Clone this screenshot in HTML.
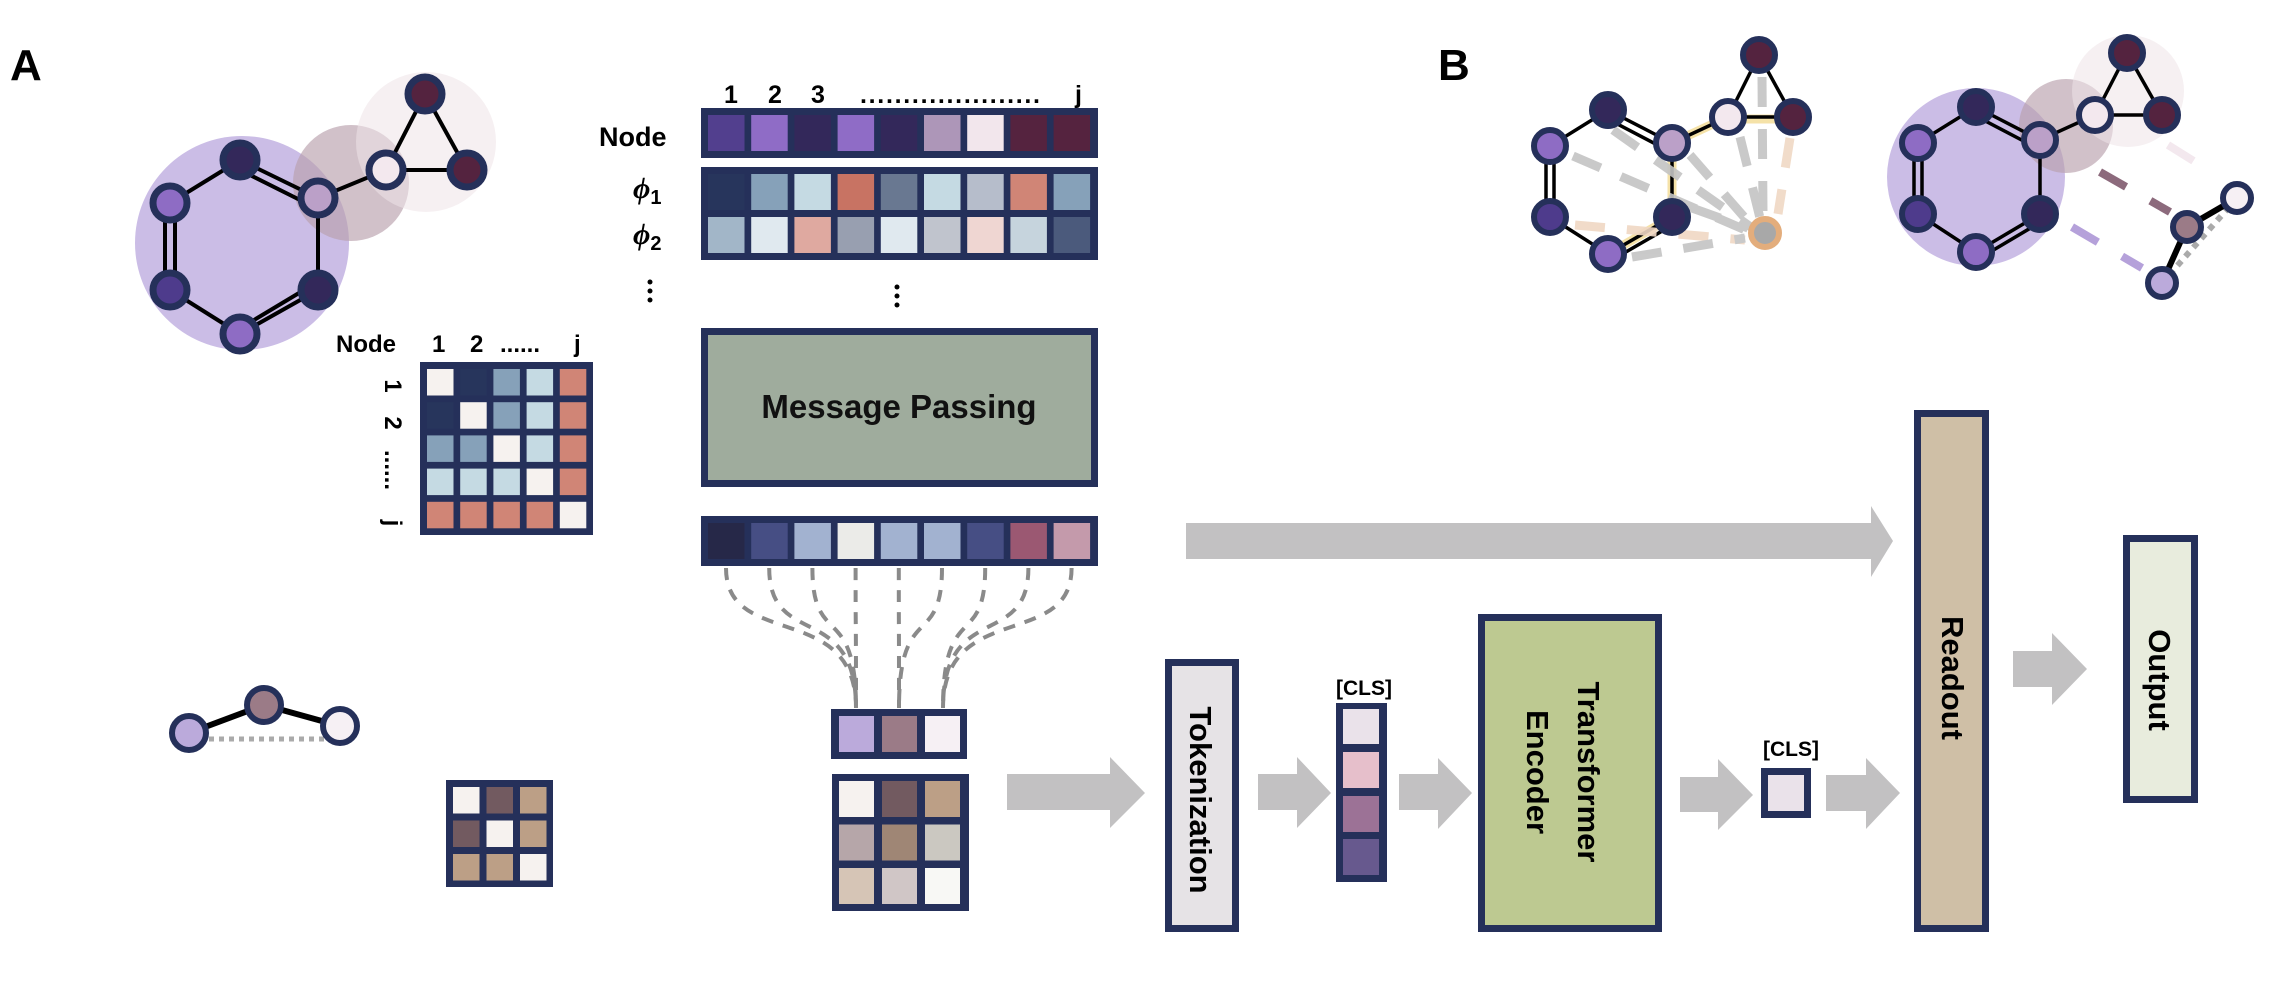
<!DOCTYPE html>
<html><head><meta charset="utf-8"><style>
html,body{margin:0;padding:0;background:#fff;}
svg{display:block;font-family:"Liberation Sans",sans-serif;font-weight:bold;}
</style></head><body>
<svg width="2278" height="982" viewBox="0 0 2278 982" xmlns="http://www.w3.org/2000/svg">
<text x="10" y="80" font-size="44">A</text>
<text x="1438" y="80" font-size="44">B</text>

<circle cx="242" cy="243" r="107" fill="#cbbde6"/>
<circle cx="351" cy="183" r="58" fill="#b8a0ac" opacity="0.65"/>
<circle cx="426" cy="142" r="70" fill="#efe4e8" opacity="0.55"/>
<g stroke="#000" stroke-width="4" fill="none">
<line x1="240" y1="160" x2="170" y2="203"/>
<line x1="240" y1="160" x2="318" y2="198"/><line x1="236" y1="168" x2="312" y2="206"/>
<line x1="165" y1="203" x2="165" y2="290"/><line x1="175" y1="203" x2="175" y2="290"/>
<line x1="170" y1="290" x2="240" y2="334"/>
<line x1="240" y1="334" x2="318" y2="290"/><line x1="244" y1="326" x2="314" y2="284"/>
<line x1="318" y1="198" x2="318" y2="290"/>
<line x1="318" y1="198" x2="386" y2="170"/>
<line x1="386" y1="170" x2="425" y2="94"/><line x1="425" y1="94" x2="467" y2="170"/><line x1="386" y1="170" x2="467" y2="170"/>
</g>
<g stroke="#25305a" stroke-width="7">
<circle cx="240" cy="160" r="17" fill="#33285a"/>
<circle cx="318" cy="198" r="17" fill="#bba0c8"/>
<circle cx="170" cy="203" r="17" fill="#8e6cc4"/>
<circle cx="170" cy="290" r="17" fill="#4e3b8c"/>
<circle cx="318" cy="290" r="17" fill="#33285a"/>
<circle cx="240" cy="334" r="17" fill="#8e6cc4"/>
<circle cx="386" cy="170" r="17" fill="#f3e8ee"/>
<circle cx="425" cy="94" r="17" fill="#54233f"/>
<circle cx="467" cy="170" r="17" fill="#54233f"/>
</g>

<text x="336" y="352" font-size="24">Node</text>
<text x="432" y="352" font-size="24">1</text>
<text x="470" y="352" font-size="24">2</text>
<text x="500" y="352" font-size="24">......</text>
<text x="574" y="352" font-size="24">j</text>
<g font-size="24">
<text transform="translate(385,386) rotate(90)" text-anchor="middle">1</text>
<text transform="translate(385,423) rotate(90)" text-anchor="middle">2</text>
<text transform="translate(385,470) rotate(90)" text-anchor="middle">......</text>
<text transform="translate(385,523) rotate(90)" text-anchor="middle">j</text>
</g>
<rect x="420" y="362" width="173" height="173" fill="#25305a"/>
<g id="mat"></g>

<g font-size="25">
<text x="724" y="103">1</text><text x="768" y="103">2</text><text x="811" y="103">3</text>
<text x="860" y="103" textLength="180" lengthAdjust="spacing">.....................</text>
<text x="1075" y="103">j</text>
</g>
<text x="599" y="146" font-size="27">Node</text>
<text x="633" y="198" font-size="30" font-style="italic" font-family="Liberation Serif,serif">ϕ<tspan font-size="20" dy="6" font-family="Liberation Sans,sans-serif" font-style="normal">1</tspan></text>
<text x="633" y="244" font-size="30" font-style="italic" font-family="Liberation Serif,serif">ϕ<tspan font-size="20" dy="6" font-family="Liberation Sans,sans-serif" font-style="normal">2</tspan></text>
<g fill="#000"><circle cx="650" cy="282" r="2.5"/><circle cx="650" cy="291" r="2.5"/><circle cx="650" cy="300" r="2.5"/>
<circle cx="897" cy="287" r="2.5"/><circle cx="897" cy="296" r="2.5"/><circle cx="897" cy="305" r="2.5"/></g>
<rect x="701" y="108" width="397" height="50" fill="#25305a"/>
<rect x="701" y="167" width="397" height="93" fill="#25305a"/>
<rect x="701" y="516" width="397" height="50" fill="#25305a"/>
<g id="bars"></g>

<rect x="704.5" y="331.5" width="390" height="152" fill="#9fac9d" stroke="#25305a" stroke-width="7"/>
<text x="899" y="418" font-size="33" text-anchor="middle" fill="#111">Message Passing</text>

<g id="fan" fill="none" stroke="#8a8a8a" stroke-width="4" stroke-dasharray="12 10"></g>

<line x1="189" y1="739" x2="340" y2="739" stroke="#aaa" stroke-width="5" stroke-dasharray="5 5"/>
<g stroke="#000" stroke-width="6"><line x1="189" y1="733" x2="264" y2="705"/><line x1="264" y1="705" x2="340" y2="726"/></g>
<g stroke="#25305a" stroke-width="6">
<circle cx="189" cy="733" r="17" fill="#bbaadb"/>
<circle cx="264" cy="705" r="17" fill="#9b7b87"/>
<circle cx="340" cy="726" r="17" fill="#f6f0f4"/>
</g>
<rect x="446" y="780" width="107" height="107" fill="#25305a"/>
<rect x="831" y="709" width="136" height="50" fill="#25305a"/>
<rect x="832" y="774" width="137" height="137" fill="#25305a"/>
<g id="small"></g>

<g fill="#c2c1c2">
<polygon points="1186,523 1871,523 1871,506 1893,541 1871,577 1871,559 1186,559"/>
<polygon points="1007,774 1110,774 1110,757 1145,793 1110,828 1110,810 1007,810"/>
<polygon points="1258,774 1297,774 1297,757 1331,793 1297,828 1297,810 1258,810"/>
<polygon points="1399,774 1438,774 1438,758 1472,793 1438,829 1438,810 1399,810"/>
<polygon points="1680,777 1718,777 1718,759 1753,795 1718,830 1718,812 1680,812"/>
<polygon points="1826,775 1866,775 1866,758 1900,793 1866,829 1866,811 1826,811"/>
<polygon points="2013,651 2052,651 2052,633 2087,669 2052,705 2052,687 2013,687"/>
</g>

<rect x="1168.5" y="662.5" width="67" height="266" fill="#e6e3e6" stroke="#25305a" stroke-width="7"/>
<text transform="translate(1190,800) rotate(90)" font-size="31" text-anchor="middle">Tokenization</text>
<text x="1336" y="695" font-size="21">[CLS]</text>
<rect x="1336" y="703" width="51" height="179" fill="#25305a"/>
<rect x="1343" y="709" width="36" height="35" fill="#eae2ea"/>
<rect x="1343" y="752" width="36" height="36" fill="#e6bfcb"/>
<rect x="1343" y="796" width="36" height="36" fill="#9c7296"/>
<rect x="1343" y="839" width="36" height="36" fill="#67598e"/>
<rect x="1481.5" y="617.5" width="177" height="311" fill="#bdc991" stroke="#25305a" stroke-width="7"/>
<text transform="translate(1578,772) rotate(90)" font-size="31" text-anchor="middle">Transformer</text>
<text transform="translate(1527,772) rotate(90)" font-size="31" text-anchor="middle">Encoder</text>
<text x="1763" y="756" font-size="21">[CLS]</text>
<rect x="1761" y="768" width="50" height="50" fill="#25305a"/>
<rect x="1768" y="775" width="36" height="36" fill="#eae2ea"/>
<rect x="1917.5" y="413.5" width="68" height="515" fill="#cfbfa6" stroke="#25305a" stroke-width="7"/>
<text transform="translate(1942,678) rotate(90)" font-size="31" text-anchor="middle">Readout</text>
<rect x="2126.5" y="538.5" width="68" height="261" fill="#e8ecdd" stroke="#25305a" stroke-width="7"/>
<text transform="translate(2149,680) rotate(90)" font-size="31" text-anchor="middle">Output</text>

<g stroke="#f5e2a8" stroke-width="9" fill="none">
<line x1="1672" y1="143" x2="1728" y2="117"/><line x1="1728" y1="119" x2="1793" y2="119"/>
<line x1="1672" y1="143" x2="1672" y2="217"/><line x1="1672" y1="217" x2="1608" y2="254"/>
</g>
<g stroke="#000" stroke-width="3.5" fill="none">
<line x1="1608" y1="110" x2="1550" y2="146"/>
<line x1="1608" y1="110" x2="1672" y2="143"/><line x1="1604" y1="117" x2="1667" y2="150"/>
<line x1="1546" y1="146" x2="1546" y2="217"/><line x1="1554" y1="146" x2="1554" y2="217"/>
<line x1="1550" y1="217" x2="1608" y2="254"/>
<line x1="1608" y1="254" x2="1672" y2="217"/><line x1="1612" y1="260" x2="1676" y2="223"/>
<line x1="1672" y1="143" x2="1672" y2="217"/>
<line x1="1672" y1="143" x2="1728" y2="117"/>
<line x1="1728" y1="117" x2="1759" y2="55"/><line x1="1759" y1="55" x2="1793" y2="117"/><line x1="1728" y1="117" x2="1793" y2="117"/>
</g>
<g stroke-width="9" stroke-dasharray="30 22" fill="none" opacity="0.9">
<line x1="1613" y1="130" x2="1755" y2="230" stroke="#c4c4c4"/>
<line x1="1573" y1="156" x2="1750" y2="232" stroke="#c4c4c4"/>
<line x1="1690" y1="155" x2="1752" y2="226" stroke="#c4c4c4"/>
<line x1="1740" y1="137" x2="1760" y2="218" stroke="#c4c4c4"/>
<line x1="1762" y1="77" x2="1763" y2="212" stroke="#c4c4c4"/>
<line x1="1790" y1="138" x2="1778" y2="214" stroke="#f0d8c4"/>
<line x1="1575" y1="225" x2="1745" y2="240" stroke="#f0d8c4"/>
<line x1="1632" y1="257" x2="1745" y2="238" stroke="#c4c4c4"/>
<line x1="1692" y1="208" x2="1748" y2="228" stroke="#c4c4c4"/>
</g>
<g stroke="#25305a" stroke-width="6">
<circle cx="1608" cy="110" r="16" fill="#33285a"/>
<circle cx="1672" cy="143" r="16" fill="#bba0c8"/>
<circle cx="1550" cy="146" r="16" fill="#8e6cc4"/>
<circle cx="1550" cy="217" r="16" fill="#4e3b8c"/>
<circle cx="1672" cy="217" r="16" fill="#33285a"/>
<circle cx="1608" cy="254" r="16" fill="#8e6cc4"/>
<circle cx="1728" cy="117" r="16" fill="#f3e8ee"/>
<circle cx="1759" cy="55" r="16" fill="#54233f"/>
<circle cx="1793" cy="117" r="16" fill="#54233f"/>
</g>
<circle cx="1765" cy="233" r="14" fill="#a8a8a8" stroke="#e3ad7c" stroke-width="6"/>

<circle cx="1976" cy="177" r="89" fill="#cbbde6"/>
<circle cx="2066" cy="126" r="47" fill="#b8a0ac" opacity="0.65"/>
<circle cx="2128" cy="91" r="56" fill="#efe4e8" opacity="0.55"/>
<g stroke="#000" stroke-width="3.5" fill="none">
<line x1="1976" y1="107" x2="1918" y2="143"/>
<line x1="1976" y1="107" x2="2040" y2="140"/><line x1="1972" y1="114" x2="2035" y2="147"/>
<line x1="1914" y1="143" x2="1914" y2="214"/><line x1="1922" y1="143" x2="1922" y2="214"/>
<line x1="1918" y1="214" x2="1976" y2="252"/>
<line x1="1976" y1="252" x2="2040" y2="214"/><line x1="1980" y1="258" x2="2044" y2="220"/>
<line x1="2040" y1="140" x2="2040" y2="214"/>
<line x1="2040" y1="140" x2="2095" y2="115"/>
<line x1="2095" y1="115" x2="2127" y2="53"/><line x1="2127" y1="53" x2="2162" y2="115"/><line x1="2095" y1="115" x2="2162" y2="115"/>
</g>
<g stroke="#25305a" stroke-width="6">
<circle cx="1976" cy="107" r="16" fill="#33285a"/>
<circle cx="2040" cy="140" r="16" fill="#bba0c8"/>
<circle cx="1918" cy="143" r="16" fill="#8e6cc4"/>
<circle cx="1918" cy="214" r="16" fill="#4e3b8c"/>
<circle cx="2040" cy="214" r="16" fill="#33285a"/>
<circle cx="1976" cy="252" r="16" fill="#8e6cc4"/>
<circle cx="2095" cy="115" r="16" fill="#f3e8ee"/>
<circle cx="2127" cy="53" r="16" fill="#54233f"/>
<circle cx="2162" cy="115" r="16" fill="#54233f"/>
</g>
<g stroke-width="8" fill="none" stroke-dasharray="30 28">
<line x1="2168" y1="145" x2="2200" y2="165" stroke="#f3e8ee"/>
<line x1="2100" y1="172" x2="2170" y2="212" stroke="#8c6a7c"/>
<line x1="2072" y1="227" x2="2142" y2="268" stroke="#b5a1da"/>
</g>
<line x1="2237" y1="198" x2="2162" y2="283" stroke="#aaa" stroke-width="6" stroke-dasharray="6 6"/>
<g stroke="#000" stroke-width="6"><line x1="2237" y1="198" x2="2187" y2="227"/><line x1="2187" y1="227" x2="2162" y2="283"/></g>
<g stroke="#25305a" stroke-width="6">
<circle cx="2237" cy="198" r="14" fill="#f6f0f4"/>
<circle cx="2187" cy="227" r="14" fill="#9b7b87"/>
<circle cx="2162" cy="283" r="14" fill="#bbaadb"/>
</g>

<script>
var NS="http://www.w3.org/2000/svg";
function r(g,x,y,w,h,c){var e=document.createElementNS(NS,"rect");e.setAttribute("x",x);e.setAttribute("y",y);e.setAttribute("width",w);e.setAttribute("height",h);e.setAttribute("fill",c);g.appendChild(e);}
var b=document.getElementById("bars");
var rows=[[115,["#523f8e","#8f6cc6","#33285a","#8f6cc6","#33285a","#ad96b8","#f2e6ec","#55233f","#55233f"]],
[174,["#27355c","#86a1b9","#c5dae3","#c87363","#697891","#c5dae3","#b6bdcb","#d08576","#86a1b9"]],
[217,["#a2b6c8","#e0e9ef","#dfa9a0","#989fb0","#e0e9ef","#c0c4cd","#efd6d2","#c6d4dd","#4b5a7c"]],
[523,["#262848","#464e84","#a2b2d0","#ebebe8","#a2b2d0","#a2b2d0","#464e84","#9b5872","#c49aab"]]];
rows.forEach(function(rw){rw[1].forEach(function(c,i){r(b,708+i*43.2,rw[0],36.5,36,c);});});
var m=document.getElementById("mat");var W="#f6f2ef",D="#27355c",B="#86a1b9",L="#c5dae3",R="#d08576";
var mm=[[W,D,B,L,R],[D,W,B,L,R],[B,B,W,L,R],[L,L,L,W,R],[R,R,R,R,W]];
mm.forEach(function(row,j){row.forEach(function(c,i){r(m,427+i*33.2,369+j*33.2,26.5,26.5,c);});});
var s=document.getElementById("small");
var s1=[["#f6f2ef","#725a60","#bc9f86"],["#725a60","#f6f2ef","#bc9f86"],["#bc9f86","#bc9f86","#f6f2ef"]];
s1.forEach(function(row,j){row.forEach(function(c,i){r(s,453+i*33.5,787+j*33.5,26.5,26.5,c);});});
["#bbaadb","#9b7b87","#f6f0f4"].forEach(function(c,i){r(s,839+i*43,716,35,36,c);});
var s2=[["#f6f2ef","#725a60","#bc9f86"],["#b6a6a9","#9f8675","#cbc8c1"],["#d6c5b6","#d0c6c6","#f8f8f5"]];
s2.forEach(function(row,j){row.forEach(function(c,i){r(s,839+i*43,781+j*43.5,35,36,c);});});
var f=document.getElementById("fan");var tg=[856,856,856,856,899,899,943,943,943];
for(var i=0;i<9;i++){var cx=726+i*43.2,tx=tg[i];var p=document.createElementNS(NS,"path");
p.setAttribute("d","M"+cx+" 568 C"+cx+" 650 "+tx+" 600 "+tx+" 708");f.appendChild(p);}
</script>
</svg>
</body></html>
